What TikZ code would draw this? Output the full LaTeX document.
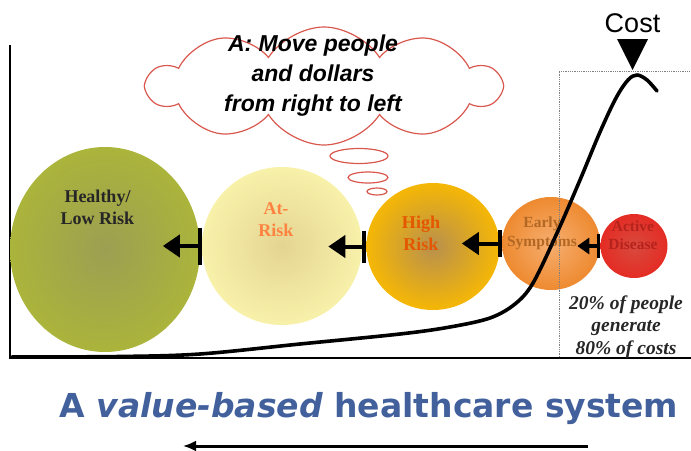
\documentclass[tikz,border=0pt]{standalone}
\usepackage{fontspec}
\setmainfont{Liberation Serif}
\newfontfamily\arialfont{Liberation Sans}
\newfontfamily\titlefont{DejaVu Sans}
\usetikzlibrary{shapes.geometric,shapes.symbols,arrows.meta,positioning}

\definecolor{healthy}{HTML}{ABB43B}
\definecolor{healthyin}{HTML}{9C9F52}
\definecolor{atrisk}{HTML}{F8F1AA}
\definecolor{atriskin}{HTML}{E4D493}
\definecolor{highrisk}{HTML}{F5B705}
\definecolor{highriskin}{HTML}{B8904E}
\definecolor{early}{HTML}{EE8A30}
\definecolor{earlyin}{HTML}{F6AE70}
\definecolor{active}{HTML}{E42C24}
\definecolor{activein}{HTML}{D84A3E}
\definecolor{cloudred}{HTML}{D9584E}
\definecolor{titleblue}{HTML}{41609C}

\tikzset{
  stage/.style={ellipse, inner sep=0pt, draw=none, shade},
  stagetext/.style={font=\fontsize{18}{22}\selectfont\bfseries, align=center},
  smalltext/.style={font=\fontsize{15.5}{18.5}\selectfont\bfseries, align=center},
  pushleft/.style={line width=4pt, {Bar[width=#1]}-{Triangle[length=17pt,width=22pt]}},
  costline/.style={line width=3.6pt, line cap=round, line join=round}
}

\begin{document}
\begin{tikzpicture}[x=1pt,y=-1pt]
\useasboundingbox (0,0) rectangle (691,450);

% axes
\draw[line width=2pt] (10,45) -- (10,358) -- (691,358);

% the five stages
\node[stage, minimum width=190pt, minimum height=205pt, inner color=healthyin, outer color=healthy] (healthy) at (105,249.5) {};
\node[stage, minimum width=160pt, minimum height=158pt, inner color=atriskin, outer color=atrisk] (atrisk) at (282,246) {};
\node[stage, minimum width=133pt, minimum height=127pt, inner color=highriskin, outer color=highrisk] (high) at (433,246.5) {};
\node[stage, minimum width=98pt, minimum height=93pt, inner color=earlyin, outer color=early] (early) at (551,243.5) {};
\node[stage, minimum width=67pt, minimum height=64pt, inner color=activein, outer color=active] (active) at (634,246) {};

\node[stagetext, text=black!85] (healthytxt) at (97.5,207.5) {Healthy/\\Low Risk};
\node[stagetext, text=orange!70!red!75!white] (atrisktxt) at (276,220) {At-\\Risk};
\node[stagetext, text=orange!75!red!90!black] (hightxt) at (421,233.5) {High\\Risk};
\node[smalltext, text=early!75!black] (earlytxt) at (542,233.5) {Early\\Symptoms};
\node[smalltext, text=active!80!black] (activetxt) at (633,235) {Active\\Disease};

% push people leftwards
\draw[pushleft=37pt] (atrisk.west) -- +(-39,0);
\draw[pushleft=32pt] (high.west) -- +(-38,0);
\draw[pushleft=27pt] (early.west) -- +(-40,0);
\draw[line width=3.5pt, {Bar[width=24pt]}-{Triangle[length=12pt,width=16pt]}] (active.west) -- +(-23,0);

% the thought cloud
\node[cloud, cloud puffs=10, cloud puff arc=115, aspect=3, draw=cloudred, line width=1.2pt,
      minimum width=352pt, minimum height=118pt, inner sep=0pt] (thought) at (324,86) {};
\node[font=\fontsize{23}{30}\arialfont\bfseries\itshape, align=center] (thoughttxt) at (313,76)
  {A: Move people\\and dollars\\from right to left};
\draw[cloudred, line width=1.2pt] (359,156) ellipse (29 and 7.5);
\draw[cloudred, line width=1.2pt] (368,177.5) ellipse (20 and 5.5);
\draw[cloudred, line width=1.2pt] (377,191.5) ellipse (10 and 3.5);

% costly corner
\draw[densely dotted, gray, line width=0.8pt] (695,71) -- (559,71) -- (559,358);
\node[font=\fontsize{27}{30}\arialfont, anchor=base] (cost) at (632.5,32) {Cost};
\fill (617,39) -- (648,39) -- (632.5,70) -- cycle;
\node[font=\fontsize{19.5}{22.5}\selectfont\bfseries\itshape, align=center, text=black!85] (share) at (626,327)
  {20\% of people\\generate\\80\% of costs};

% cost curve
\draw[costline] plot[smooth, tension=0.55] coordinates {
  (12,357) (120,356.5) (200,354) (300,344) (400,334) (450,327) (490,318)
  (515,304) (533,283) (557,233) (580,180) (600,132) (616,98) (628,80)
  (637,75) (647,80) (657,91)};

% bottom line
\node[font=\fontsize{33}{36}\titlefont\bfseries, text=titleblue, anchor=base] (title) at (369,417)
  {A {\itshape value-based} healthcare system};
\coordinate (arrowstart) at (588,446);
\coordinate (arrowend) at (183,446);
\draw[line width=3pt, -{Latex[length=13pt,width=11pt]}] (arrowstart) -- (arrowend);
\end{tikzpicture}
\end{document}
